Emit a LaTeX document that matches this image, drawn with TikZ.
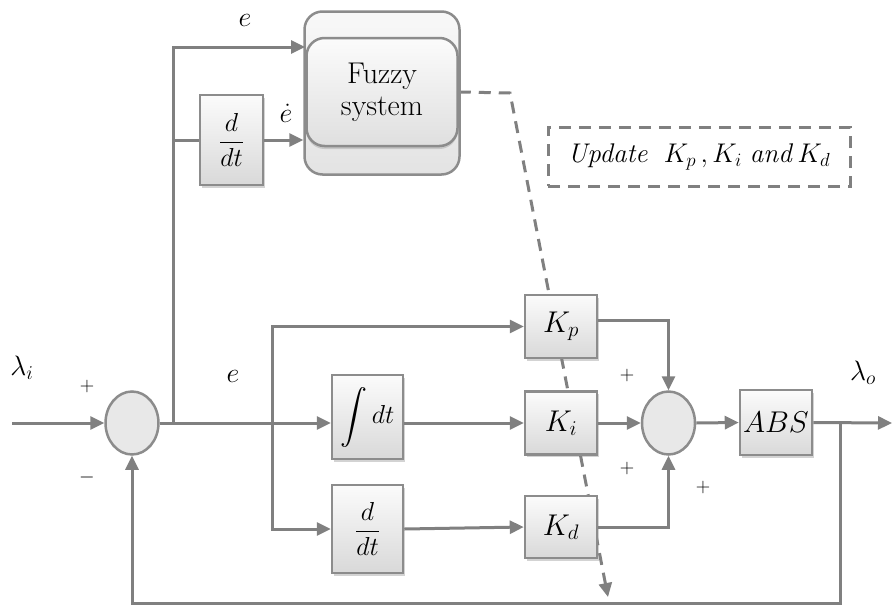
\RequirePackage{fix-cm}
\documentclass[tikz,border=0pt]{standalone}
\usepackage{amsmath,amssymb}
\usetikzlibrary{arrows.meta,calc,positioning,shapes.geometric,shadows}
\definecolor{wiregray}{RGB}{128,128,128}
\definecolor{edgegray}{RGB}{140,140,140}
\pgfdeclarelayer{back}
\pgfsetlayers{back,main}

\begin{document}
\begin{tikzpicture}[x=1pt,y=-1pt,>={Triangle[length=14pt,width=13pt]}]
  % Global styles (1pt = 1px of the picture)
  \tikzset{
    wire/.style  = {draw=wiregray, line width=3pt},
    upd/.style   = {draw=wiregray, line width=3pt, dash pattern=on 12pt off 8pt},
    blk/.style   = {draw=edgegray, line width=2.5pt, top color=gray!3, bottom color=gray!30,
                    minimum width=72pt, minimum height=64pt, inner sep=0pt,
                    drop shadow={shadow xshift=2pt, shadow yshift=-2.5pt, opacity=0.35},
                    font=\fontsize{30}{32}\selectfont},
    frac/.style  = {font=\fontsize{26}{28}\selectfont},
    sum/.style   = {ellipse, draw=edgegray, line width=2.5pt, fill=gray!18,
                    minimum width=53pt, minimum height=63pt, inner sep=0pt},
    lab/.style   = {font=\fontsize{28}{30}\selectfont, inner sep=1pt},
    sgn/.style   = {font=\fontsize{20}{22}\selectfont, inner sep=1pt}
  }
  \useasboundingbox (0,0) rectangle (893,608);

  % ========= Fuzzy tuner (top) =========
  \node[draw=edgegray, line width=2.5pt, rounded corners=18pt, top color=gray!5, bottom color=gray!22,
        minimum width=155pt, minimum height=163pt] (fuzzyback) at (382,93) {};
  \node[draw=edgegray, line width=2.5pt, rounded corners=18pt, top color=gray!3, bottom color=gray!25,
        minimum width=151pt, minimum height=108pt, align=center,
        drop shadow={shadow xshift=0pt, shadow yshift=-3pt, opacity=0.3},
        font=\fontsize{30}{32}\selectfont] (fuzzy) at (382,92) {Fuzzy\\system};
  \node[blk, frac, minimum width=63pt, minimum height=90pt] (ddtA) at (231.5,140) {$\dfrac{d}{dt}$};
  \node[upd, minimum width=302pt, minimum height=59pt, font=\fontsize{27}{30}\selectfont]
        (note) at (699,156.5) {\textit{Update}\ \ $K_p\,,K_i$ \textit{and}\,$K_d$};

  % ========= PID loop =========
  \node[sum] (sumin) at (132,423) {};
  \node[blk, frac, minimum width=71pt, minimum height=84pt] (intg) at (367.5,417)
        {{\fontsize{27}{28}\selectfont$\displaystyle\int$}$\,dt$};
  \node[blk, frac, minimum width=71pt, minimum height=88pt] (ddtB) at (367.5,529) {$\dfrac{d}{dt}$};
  \node[blk, minimum height=63pt] (kp) at (561,326.5) {$K_p$};
  \node[blk, minimum height=63pt] (ki) at (561,423) {$K_i$};
  \node[blk, minimum height=62pt] (kd) at (561,527) {$K_d$};
  \node[sum] (sumout) at (668.5,423) {};
  \node[blk, minimum height=65pt] (abs) at (776,422.5) {$ABS$};

  % branch points and free ends
  \coordinate (br1) at (173,423);
  \coordinate (br2) at (272,423);
  \coordinate (fb) at (840,423);
  \coordinate (src) at (12,423);
  \coordinate (dst) at (892,423);
  \coordinate (fbl) at (840,603);
  \coordinate (etop) at (305,47);
  \coordinate (dbend) at (510,93);
  \coordinate (dend) at (608,597);

  % ========= connectors =========
  \draw[wire,->] (src) -- (sumin.west);
  \draw[wire] (sumin.east) -- (br2);
  \draw[wire,->] (br1) |- (etop);
  \draw[wire] (br1 |- ddtA.west) -- (ddtA.west);
  \draw[wire,->] (ddtA.east) -- (fuzzyback.west |- ddtA.east);
  \draw[wire,->] (br2) -- (br2 -| intg.west);
  \draw[wire,->] (br2) |- (kp.west);
  \draw[wire,->] (br2) |- (ddtB.west);
  \draw[wire,->] (intg.east |- ki.west) -- (ki.west);
  \draw[wire,->] (ddtB.east) -- (kd.west);
  \draw[wire,->] ([yshift=6pt]kp.east) -| (sumout.north);
  \draw[wire,->] (ki.east) -- (sumout.west);
  \draw[wire,->] (kd.east) -| (sumout.south);
  \draw[wire,->] (sumout.east) -- (abs.west);
  \draw[wire,->] (abs.east) -- (dst);
  \draw[wire,->] (fb) -- (fbl) -| (sumin.south);
  \begin{pgfonlayer}{back}
    \draw[upd,->] (fuzzy.east) -- (dbend) -- (dend);
  \end{pgfonlayer}

  % ========= labels =========
  \node[lab] (lamin) at (22,368) {$\lambda_i$};
  \node[lab] (lamout) at (863,373) {$\lambda_o$};
  \node[lab] (elab) at (233,376) {$e$};
  \node[lab] (etoplab) at (245,20) {$e$};
  \node[lab] (edotlab) at (286,113) {$\dot{e}$};
  \node[sgn] (pa) at (87,386) {$+$};
  \node[sgn] (mb) at (87,477) {$-$};
  \node[sgn] (pc) at (627,375) {$+$};
  \node[sgn] (pd) at (627,468) {$+$};
  \node[sgn] (pe) at (703,487) {$+$};
\end{tikzpicture}
\end{document}
